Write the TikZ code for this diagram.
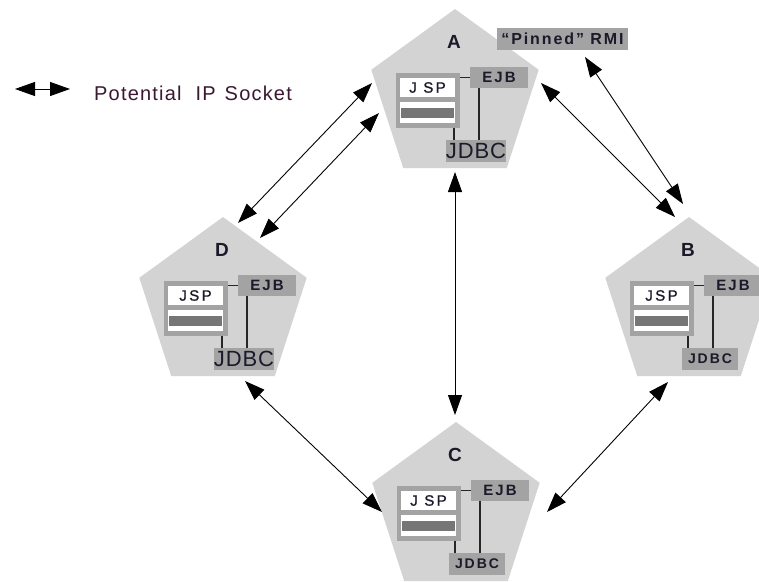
\documentclass[tikz,border=0pt]{standalone}
\usepackage{fontspec}
\setmainfont{Liberation Sans}
\usetikzlibrary{shapes.geometric,arrows.meta,calc}
\definecolor{pentfill}{HTML}{D3D3D3}
\definecolor{boxgray}{HTML}{A3A3A3}
\definecolor{hatchgray}{HTML}{767676}
\definecolor{legendcol}{HTML}{3A1830}
\definecolor{txt}{HTML}{1A1A2A}
\tikzset{
  pent/.style={regular polygon, regular polygon sides=5, minimum size=176pt, inner sep=0pt, outer sep=0pt, fill=pentfill},
  graybox/.style={rectangle, fill=boxgray, inner sep=0pt, outer sep=0pt, text=txt},
  whitebox/.style={rectangle, fill=white, inner sep=0pt, outer sep=0pt, text=txt},
  wire/.style={draw=black!85, line width=1.3pt},
  link/.style={draw=black, line width=0.9pt, >={Triangle[length=20pt,width=14pt]}, <->},
  letterlbl/.style={font=\bfseries\fontsize{19}{19}\selectfont, text=txt, inner sep=0pt},
}
\newcommand\mkserver[6]{%
  \node[pent] (#1) at (#2,#3) {};
  \begin{scope}[shift={(#2,#3)}]
    \node[letterlbl] (#1-lbl) at (-1,-55) {#4};
    \node[graybox, minimum width=64pt, minimum height=55pt] (#1-jsp) at (-27,3.5) {};
    \node[whitebox, minimum width=55pt, minimum height=19pt, font=\fontsize{15}{15}\selectfont\addfontfeature{LetterSpace=16,FakeBold=1.2}] (#1-jsptxt) at (-27.5,-9.5) {#5};
    \node[whitebox, minimum width=55pt, minimum height=21pt] (#1-view) at (-27.5,15.5) {};
    \fill[hatchgray] (-54,11) rectangle (-1,21);
    \node[graybox, minimum width=58pt, minimum height=21pt, font=\bfseries\fontsize{15}{15}\selectfont\addfontfeature{LetterSpace=14}] (#1-ejb) at (44,-19.5) {EJB};
    \node[graybox, minimum width=56pt, minimum height=22pt, font=#6] (#1-jdbc) at (21,54) {JDBC};
    \coordinate (#1-v) at (24,0);
    \coordinate (#1-s) at (-1,0);
  \end{scope}
  \draw[wire] (#1-ejb.west) -- (#1-ejb.west -| #1-jsp.east);
  \draw[wire] (#1-v |- #1-ejb.south) -- (#1-v |- #1-jdbc.north);
  \draw[wire] (#1-s |- #1-jsp.south) -- (#1-s |- #1-jdbc.north);
}
\begin{document}
\begin{tikzpicture}[x=1pt,y=-1pt]
  \useasboundingbox (0,0) rectangle (759,581);
  \clip (0,0) rectangle (759,581);
  \mkserver{A}{455}{97}{A}{J SP}{\fontsize{22}{22}\selectfont\addfontfeature{LetterSpace=4}}
  \mkserver{D}{223}{305}{D}{JSP}{\fontsize{22}{22}\selectfont\addfontfeature{LetterSpace=4}}
  \mkserver{B}{689}{305}{B}{JSP}{\bfseries\fontsize{14}{14}\selectfont\addfontfeature{LetterSpace=14}}
  \mkserver{C}{456}{510}{C}{J SP}{\bfseries\fontsize{14}{14}\selectfont\addfontfeature{LetterSpace=14}}
  \node[graybox, minimum width=131pt, minimum height=22pt, font=\bfseries\fontsize{16}{16}\selectfont\addfontfeature{LetterSpace=12}] (pin) at (562.5,39) {``Pinned'' RMI};
  % legend
  \coordinate (leg-l) at (15,89);
  \coordinate (leg-r) at (70,89);
  \draw[link] (leg-l) -- (leg-r);
  \node[anchor=west, text=legendcol, inner sep=0pt, font=\fontsize{20}{20}\selectfont\addfontfeature{LetterSpace=6}] (legend) at (94,93) {Potential\hspace{14pt}IP\hspace{9pt}Socket};
  % connectors
  \draw[link] ($(A)+(-83,-14)$) -- ($(D)+(15,-82)$);
  \draw[link] ($(A)+(-76,16)$) -- ($(D)+(37,-67)$);
  \draw[link] ($(A)+(86,-14)$) -- ($(B)+(-14,-88)$);
  \draw[link] ($(pin)+(22.5,18)$) -- ($(B)+(-6,-101)$);
  \draw[link] ($(A)+(0,75)$) -- ($(C)+(-1,-95)$);
  \draw[link] ($(D)+(22,76)$) -- ($(C)+(-74,2)$);
  \draw[link] ($(B)+(-21,77)$) -- ($(C)+(91,2)$);
\end{tikzpicture}
\end{document}
